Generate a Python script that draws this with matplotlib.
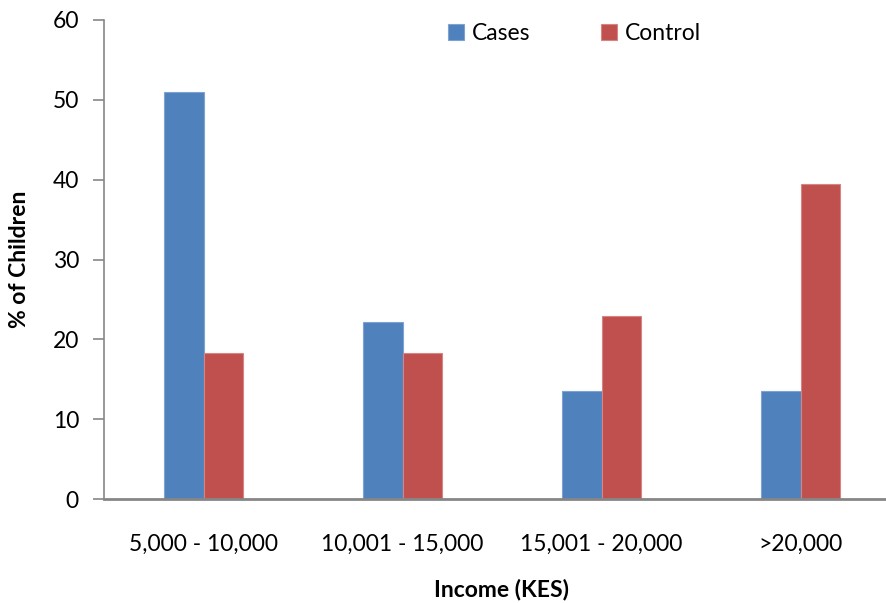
import matplotlib
matplotlib.use("Agg")
from matplotlib import pyplot as plt
import numpy as np

categories = ['5,000 - 10,000', '10,001 - 15,000', '15,001 - 20,000', '>20,000']
cases = [51.0, 22.2, 13.5, 13.5]
control = [18.3, 18.3, 22.9, 39.5]

plt.rcParams['font.family'] = ['Lato', 'DejaVu Sans']

W, H = 887, 603
fig = plt.figure(figsize=(W / 100, H / 100), dpi=100)
# axis spans a little past the right edge, like the original
ax = fig.add_axes([104 / W, 104 / H, 796 / W, 479 / H])

x = np.arange(len(categories))
w = 0.2
ax.bar(x - w / 2, cases, w, color='#4F81BD', edgecolor='#7FA3D0', linewidth=0.8, label='Cases')
ax.bar(x + w / 2, control, w, color='#C0504D', edgecolor='#D58583', linewidth=0.8, label='Control')

ax.set_xlim(-0.5, 3.5)
ax.set_ylim(0, 60)
ax.set_yticks(range(0, 61, 10))
ax.set_xticks(x)
ax.set_xticklabels(categories)

for s in ['top', 'right']:
    ax.spines[s].set_visible(False)
for s in ['left', 'bottom']:
    ax.spines[s].set_color('#868686')
    ax.spines[s].set_linewidth(1.2)
ax.spines['bottom'].set_linewidth(2)

fs = 16.5
ax.tick_params(axis='y', length=8, width=1.2, color='#868686', labelsize=fs, pad=10)
ax.tick_params(axis='x', length=0, labelsize=fs, pad=25)

# axis titles placed by hand (in axes coords)
ax.set_ylabel('% of Children', fontsize=fs, fontweight='bold', va='center')
ax.yaxis.set_label_coords((20 - 104) / 796, 0.5)
ax.set_xlabel('Income (KES)', fontsize=fs, fontweight='bold', va='center')
ax.xaxis.set_label_coords((502 - 104) / 796, (499 - 590) / 479)

ax.legend(loc='upper left', bbox_to_anchor=(323 / 796, 1.036), ncol=2, frameon=False,
          fontsize=fs, handlelength=0.7, handleheight=0.7, handletextpad=0.35,
          columnspacing=3.1)

fig.savefig('out.png', dpi=100)
